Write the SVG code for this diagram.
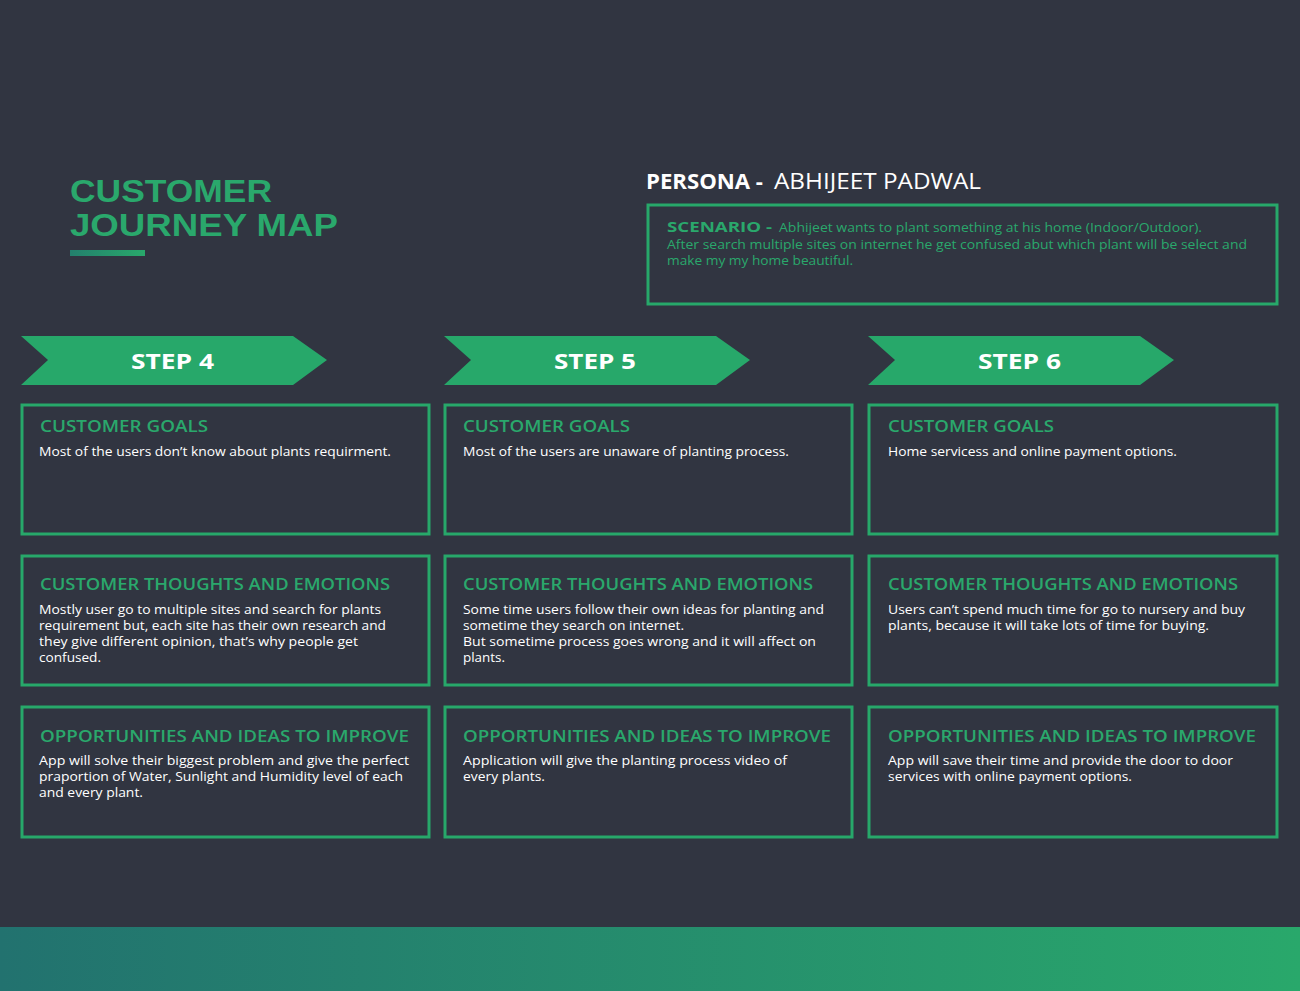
<svg xmlns="http://www.w3.org/2000/svg" width="1300" height="991" viewBox="0 0 1300 991">
<defs>
<linearGradient id="bar" x1="0" y1="0" x2="1" y2="0"><stop offset="0" stop-color="#22726f"/><stop offset="1" stop-color="#29a86b"/></linearGradient>
<linearGradient id="ul" x1="0" y1="0" x2="1" y2="0"><stop offset="0" stop-color="#23806d"/><stop offset="1" stop-color="#29a86b"/></linearGradient>
<style>
text,tspan{font-family:"Open Sans","Liberation Sans",sans-serif}
.box{fill:none;stroke:#27a86a;stroke-width:3}
.hd{font-weight:600;font-size:16.5px;fill:#2aa86c}
.bd{font-size:13px;fill:#ffffff}
.step{font-weight:700;font-size:22px;fill:#ffffff}
.ttl{font-family:"Liberation Sans",Arial,sans-serif;font-weight:700;font-size:32px;fill:#2aa86c}
.sc{font-size:12.5px;fill:#2aa86c}
.band{fill:#27a86a}
</style>
</defs>
<rect width="1300" height="991" fill="#313541"/>
<rect x="0" y="927" width="1300" height="64" fill="url(#bar)"/>

<g id="title">
<text class="ttl" x="70" y="202" textLength="202" lengthAdjust="spacingAndGlyphs">CUSTOMER</text>
<text class="ttl" x="70" y="236" textLength="268" lengthAdjust="spacingAndGlyphs">JOURNEY MAP</text>
<rect x="70" y="250" width="75" height="6" fill="url(#ul)"/>
</g>

<g id="persona">
<text x="646" y="189" font-size="21" fill="#ffffff"><tspan font-weight="700" textLength="117" lengthAdjust="spacingAndGlyphs">PERSONA -</tspan><tspan x="774" textLength="207" lengthAdjust="spacingAndGlyphs">ABHIJEET PADWAL</tspan></text>
</g>

<g id="scenario">
<rect class="box" x="648" y="205" width="629" height="99"/>
<text class="sc"><tspan x="667" y="232" font-size="15" font-weight="700" textLength="105" lengthAdjust="spacingAndGlyphs">SCENARIO -</tspan><tspan x="779" y="232" textLength="423" lengthAdjust="spacingAndGlyphs">Abhijeet wants to plant something at his home (Indoor/Outdoor).</tspan><tspan x="667" y="248.5" textLength="580" lengthAdjust="spacingAndGlyphs">After search multiple sites on internet he get confused abut which plant will be select and</tspan><tspan x="667" y="264.5" textLength="186" lengthAdjust="spacingAndGlyphs">make my my home beautiful.</tspan></text>
</g>

<g id="step4">
<polygon class="band" points="21,336 293,336 327,360 293,385 21,385 48,360"/>
<text class="step" x="131" y="369" textLength="83" lengthAdjust="spacingAndGlyphs">STEP 4</text>
</g>
<g id="step5">
<polygon class="band" points="444,336 716,336 750,360 716,385 444,385 471,360"/>
<text class="step" x="554" y="369" textLength="82" lengthAdjust="spacingAndGlyphs">STEP 5</text>
</g>
<g id="step6">
<polygon class="band" points="868,336 1140,336 1174,360 1140,385 868,385 895,360"/>
<text class="step" x="978" y="369" textLength="83" lengthAdjust="spacingAndGlyphs">STEP 6</text>
</g>

<g id="goals4">
<rect class="box" x="22" y="405" width="407" height="129"/>
<text class="hd" x="40" y="432" textLength="168" lengthAdjust="spacingAndGlyphs">CUSTOMER GOALS</text>
<text class="bd" x="39" y="456" textLength="352" lengthAdjust="spacingAndGlyphs">Most of the users don’t know about plants requirment.</text>
</g>
<g id="goals5">
<rect class="box" x="445" y="405" width="407" height="129"/>
<text class="hd" x="463" y="432" textLength="167" lengthAdjust="spacingAndGlyphs">CUSTOMER GOALS</text>
<text class="bd" x="463" y="456" textLength="326" lengthAdjust="spacingAndGlyphs">Most of the users are unaware of planting process.</text>
</g>
<g id="goals6">
<rect class="box" x="869" y="405" width="408" height="129"/>
<text class="hd" x="888" y="432" textLength="166" lengthAdjust="spacingAndGlyphs">CUSTOMER GOALS</text>
<text class="bd" x="888" y="456" textLength="289" lengthAdjust="spacingAndGlyphs">Home servicess and online payment options.</text>
</g>

<g id="thoughts4">
<rect class="box" x="22" y="556" width="407" height="129"/>
<text class="hd" x="40" y="590" textLength="350" lengthAdjust="spacingAndGlyphs">CUSTOMER THOUGHTS AND EMOTIONS</text>
<text class="bd"><tspan x="39" y="614" textLength="342" lengthAdjust="spacingAndGlyphs">Mostly user go to multiple sites and search for plants</tspan><tspan x="39" y="630" textLength="347" lengthAdjust="spacingAndGlyphs">requirement but, each site has their own research and</tspan><tspan x="39" y="646" textLength="319" lengthAdjust="spacingAndGlyphs">they give different opinion, that’s why people get</tspan><tspan x="39" y="662" textLength="62" lengthAdjust="spacingAndGlyphs">confused.</tspan></text>
</g>
<g id="thoughts5">
<rect class="box" x="445" y="556" width="407" height="129"/>
<text class="hd" x="463" y="590" textLength="350" lengthAdjust="spacingAndGlyphs">CUSTOMER THOUGHTS AND EMOTIONS</text>
<text class="bd"><tspan x="463" y="614" textLength="361" lengthAdjust="spacingAndGlyphs">Some time users follow their own ideas for planting and</tspan><tspan x="463" y="630" textLength="221" lengthAdjust="spacingAndGlyphs">sometime they search on internet.</tspan><tspan x="463" y="646" textLength="353" lengthAdjust="spacingAndGlyphs">But sometime process goes wrong and it will affect on</tspan><tspan x="463" y="662" textLength="42" lengthAdjust="spacingAndGlyphs">plants.</tspan></text>
</g>
<g id="thoughts6">
<rect class="box" x="869" y="556" width="408" height="129"/>
<text class="hd" x="888" y="590" textLength="350" lengthAdjust="spacingAndGlyphs">CUSTOMER THOUGHTS AND EMOTIONS</text>
<text class="bd"><tspan x="888" y="614" textLength="357" lengthAdjust="spacingAndGlyphs">Users can’t spend much time for go to nursery and buy</tspan><tspan x="888" y="630" textLength="321" lengthAdjust="spacingAndGlyphs">plants, because it will take lots of time for buying.</tspan></text>
</g>

<g id="ideas4">
<rect class="box" x="22" y="707" width="407" height="130"/>
<text class="hd" x="40" y="742" textLength="369" lengthAdjust="spacingAndGlyphs">OPPORTUNITIES AND IDEAS TO IMPROVE</text>
<text class="bd"><tspan x="39" y="765" textLength="370" lengthAdjust="spacingAndGlyphs">App will solve their biggest problem and give the perfect</tspan><tspan x="39" y="781" textLength="364" lengthAdjust="spacingAndGlyphs">praportion of Water, Sunlight and Humidity level of each</tspan><tspan x="39" y="797" textLength="104" lengthAdjust="spacingAndGlyphs">and every plant.</tspan></text>
</g>
<g id="ideas5">
<rect class="box" x="445" y="707" width="407" height="130"/>
<text class="hd" x="463" y="742" textLength="368" lengthAdjust="spacingAndGlyphs">OPPORTUNITIES AND IDEAS TO IMPROVE</text>
<text class="bd"><tspan x="463" y="765" textLength="324" lengthAdjust="spacingAndGlyphs">Application will give the planting process video of</tspan><tspan x="463" y="781" textLength="82" lengthAdjust="spacingAndGlyphs">every plants.</tspan></text>
</g>
<g id="ideas6">
<rect class="box" x="869" y="707" width="408" height="130"/>
<text class="hd" x="888" y="742" textLength="368" lengthAdjust="spacingAndGlyphs">OPPORTUNITIES AND IDEAS TO IMPROVE</text>
<text class="bd"><tspan x="888" y="765" textLength="345" lengthAdjust="spacingAndGlyphs">App will save their time and provide the door to door</tspan><tspan x="888" y="781" textLength="244" lengthAdjust="spacingAndGlyphs">services with online payment options.</tspan></text>
</g>

<g id="connectors"></g>
</svg>
